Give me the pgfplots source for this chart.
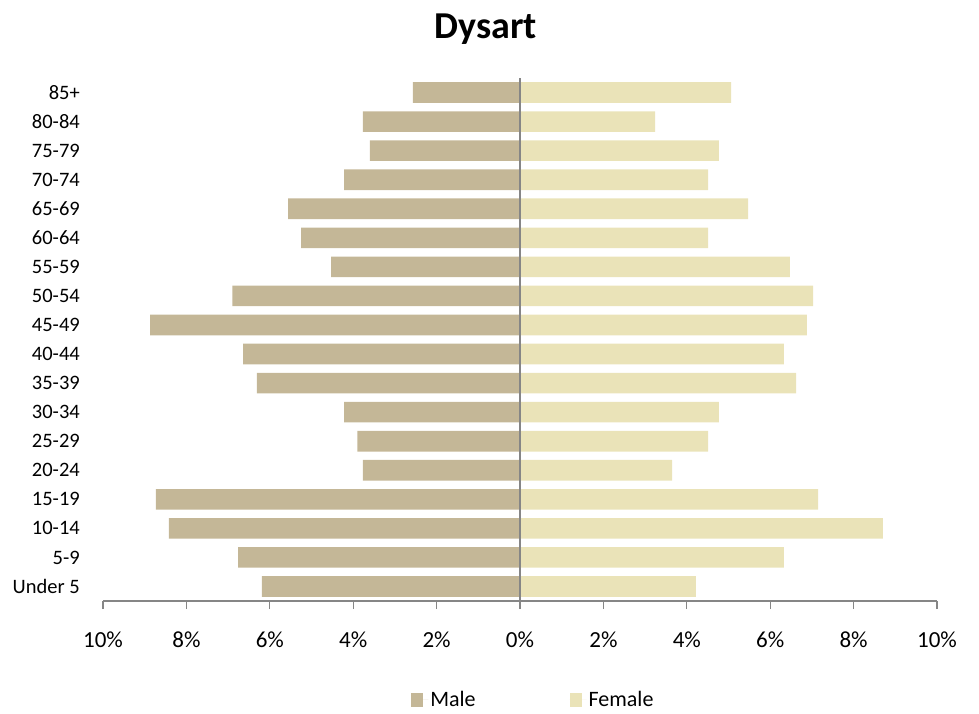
\documentclass[border=0pt]{standalone}
\usepackage{pgfplots}
\pgfplotsset{compat=1.18}
\usepackage{fontspec}
\setmainfont{Carlito}

\definecolor{malec}{HTML}{C4B797}
\definecolor{femalec}{HTML}{EAE3B8}
\definecolor{axisgray}{HTML}{868686}

% y = 0 is "Under 5", y = 17 is "85+"
\pgfplotstableread{
y male female
0 -6.19 4.22
1 -6.76 6.33
2 -8.42 8.70
3 -8.73 7.15
4 -3.77 3.65
5 -3.90 4.51
6 -4.22 4.77
7 -6.31 6.62
8 -6.64 6.33
9 -8.87 6.88
10 -6.90 7.03
11 -4.53 6.47
12 -5.25 4.51
13 -5.56 5.47
14 -4.22 4.51
15 -3.60 4.77
16 -3.77 3.24
17 -2.57 5.06
}\pyramid

\begin{document}
\begin{tikzpicture}
\begin{axis}[
    at={(103pt,-601pt)}, anchor=south west,
    scale only axis,
    width=834pt, height=523pt,
    xmin=-10, xmax=10,
    ymin=-0.5, ymax=17.5,
    xbar, bar shift=0pt, bar width=0.71,
    axis x line=bottom,
    axis y line=left,
    x axis line style={-, draw=axisgray, line width=1.3pt},
    y axis line style={draw=none},
    xtick={-10,-8,...,10},
    xticklabels={10\%,8\%,6\%,4\%,2\%,0\%,2\%,4\%,6\%,8\%,10\%},
    xtick style={draw=axisgray, line width=1.1pt},
    tick align=outside,
    major tick length=8pt,
    ytick={0,...,17},
    yticklabels={Under 5,5-9,10-14,15-19,20-24,25-29,30-34,35-39,40-44,45-49,50-54,55-59,60-64,65-69,70-74,75-79,80-84,85+},
    ytick style={draw=none},
    xticklabel style={font=\fontsize{23}{27}\selectfont, anchor=center, yshift=-39pt+8pt},
    yticklabel style={font=\fontsize{20.5}{24}\selectfont, anchor=east, inner sep=0pt, xshift=-15pt},
    title={Dysart},
    title style={font=\fontsize{38}{42}\selectfont\bfseries, at={(0.459,1.0975)}, anchor=center, yshift=-8pt},
    legend columns=2,
    legend style={draw=none, at={(0.516,-0.189)}, anchor=center,
        font=\fontsize{22}{26}\selectfont,
        /tikz/every even column/.append style={column sep=92pt}},
    legend image code/.code={\fill[#1] (0pt,-7pt) rectangle (12pt,7pt);
        \path (0pt,0pt) -- (17pt,0pt);},
]
\addplot[fill=malec, draw=none] table[x=male, y=y] {\pyramid};
\addplot[fill=femalec, draw=none] table[x=female, y=y] {\pyramid};
\legend{Male, Female}
\draw[axisgray, line width=1.3pt] (axis cs:0,-0.5) -- (axis cs:0,17.5);
\end{axis}
\path (0pt,0pt) rectangle (979pt,-713pt);
\end{tikzpicture}
\end{document}
